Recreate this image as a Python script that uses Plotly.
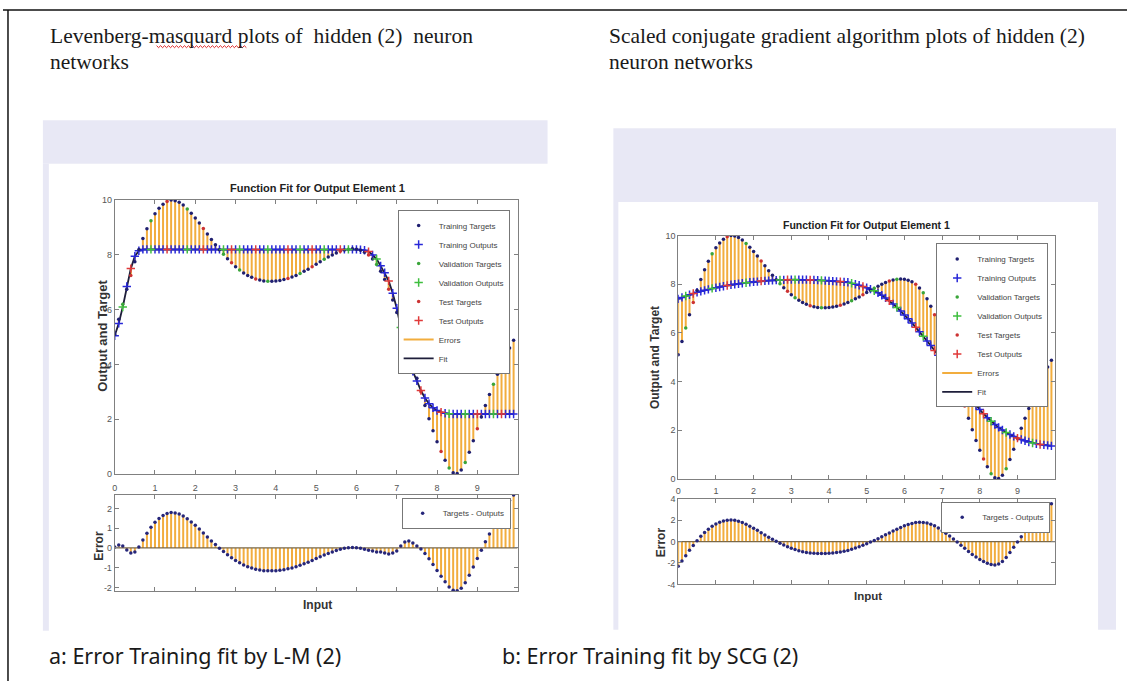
import plotly.graph_objects as go

W, H = 1127, 686

# ---------------- data ----------------
x_vals = [
    0.0, 0.1, 0.2, 0.3, 0.4, 0.5, 0.6, 0.7, 0.8, 0.9,
    1.0, 1.1, 1.2, 1.3, 1.4, 1.5, 1.6, 1.7, 1.8, 1.9,
    2.0, 2.1, 2.2, 2.3, 2.4, 2.5, 2.6, 2.7, 2.8, 2.9,
    3.0, 3.1, 3.2, 3.3, 3.4, 3.5, 3.6, 3.7, 3.8, 3.9,
    4.0, 4.1, 4.2, 4.3, 4.4, 4.5, 4.6, 4.7, 4.8, 4.9,
    5.0, 5.1, 5.2, 5.3, 5.4, 5.5, 5.6, 5.7, 5.8, 5.9,
    6.0, 6.1, 6.2, 6.3, 6.4, 6.5, 6.6, 6.7, 6.8, 6.9,
    7.0, 7.1, 7.2, 7.3, 7.4, 7.5, 7.6, 7.7, 7.8, 7.9,
    8.0, 8.1, 8.2, 8.3, 8.4, 8.5, 8.6, 8.7, 8.8, 8.9,
    9.0, 9.1, 9.2, 9.3, 9.4, 9.5, 9.6, 9.7, 9.8, 9.9,
]

targets = [
    5.10, 5.65, 6.20, 6.75, 7.25, 7.75, 8.20, 8.60, 8.95, 9.25,
    9.50, 9.70, 9.85, 9.95, 10.00, 9.98, 9.92, 9.82, 9.68, 9.52,
    9.35, 9.16, 8.96, 8.76, 8.56, 8.37, 8.19, 8.02, 7.86, 7.71,
    7.57, 7.45, 7.34, 7.25, 7.18, 7.12, 7.08, 7.05, 7.04, 7.04,
    7.05, 7.07, 7.10, 7.14, 7.19, 7.25, 7.32, 7.40, 7.48, 7.57,
    7.66, 7.75, 7.84, 7.92, 8.00, 8.07, 8.13, 8.18, 8.21, 8.22,
    8.21, 8.17, 8.10, 8.00, 7.85, 7.65, 7.40, 7.10, 6.75, 6.35,
    5.90, 5.45, 5.00, 4.50, 4.00, 3.50, 3.00, 2.50, 2.02, 1.58,
    1.18, 0.82, 0.50, 0.22, 0.05, 0.02, 0.15, 0.42, 0.80, 1.22,
    1.65, 2.08, 2.50, 2.90, 3.28, 3.64, 3.98, 4.30, 4.60, 4.88,
]

lm_outputs = [
    5.05, 5.50, 6.10, 6.85, 7.50, 7.95, 8.15, 8.20, 8.20, 8.20,
    8.20, 8.20, 8.20, 8.20, 8.20, 8.20, 8.20, 8.20, 8.20, 8.20,
    8.20, 8.20, 8.20, 8.20, 8.20, 8.20, 8.20, 8.20, 8.20, 8.20,
    8.20, 8.20, 8.20, 8.20, 8.20, 8.20, 8.20, 8.20, 8.20, 8.20,
    8.20, 8.20, 8.20, 8.20, 8.20, 8.20, 8.20, 8.20, 8.20, 8.20,
    8.20, 8.20, 8.20, 8.20, 8.20, 8.20, 8.20, 8.20, 8.20, 8.20,
    8.20, 8.19, 8.17, 8.12, 8.00, 7.85, 7.60, 7.35, 7.05, 6.60,
    6.05, 5.35, 4.70, 4.15, 3.75, 3.40, 3.05, 2.78, 2.57, 2.42,
    2.32, 2.26, 2.22, 2.20, 2.19, 2.19, 2.19, 2.19, 2.19, 2.19,
    2.19, 2.19, 2.19, 2.19, 2.19, 2.19, 2.19, 2.19, 2.19, 2.19,
]

scg_outputs = [
    7.40, 7.46, 7.52, 7.57, 7.62, 7.67, 7.71, 7.75, 7.79, 7.83,
    7.86, 7.89, 7.92, 7.95, 7.98, 8.00, 8.02, 8.04, 8.06, 8.08,
    8.10, 8.11, 8.13, 8.14, 8.15, 8.16, 8.17, 8.18, 8.18, 8.19,
    8.19, 8.19, 8.19, 8.19, 8.19, 8.18, 8.18, 8.17, 8.16, 8.15,
    8.14, 8.13, 8.12, 8.11, 8.10, 8.08, 8.04, 8.00, 7.96, 7.91,
    7.86, 7.80, 7.73, 7.65, 7.55, 7.44, 7.32, 7.19, 7.05, 6.90,
    6.74, 6.58, 6.41, 6.23, 6.05, 5.86, 5.67, 5.48, 5.28, 5.08,
    4.88, 4.68, 4.47, 4.26, 4.05, 3.84, 3.63, 3.42, 3.22, 3.03,
    2.85, 2.68, 2.52, 2.37, 2.24, 2.12, 2.01, 1.91, 1.83, 1.75,
    1.68, 1.62, 1.57, 1.52, 1.48, 1.45, 1.42, 1.40, 1.38, 1.36,
]

val_idx = [2, 9, 18, 27, 31, 38, 46, 52, 58, 65, 71, 83, 87, 94]
test_idx = [4, 13, 22, 29, 35, 43, 49, 56, 63, 68, 76, 81, 90, 96]

x_tick_vals = [0, 1, 2, 3, 4, 5, 6, 7, 8, 9]
x_tick_text = ["0", "1", "2", "3", "4", "5", "6", "7", "8", "9"]
fit_y_ticks = [0, 2, 4, 6, 8, 10]
lm_err_ticks = [-2, -1, 0, 1, 2]
lm_err_text = ["-2", "-1", "0", "1", "2"]
scg_err_ticks = [-4, -2, 0, 2, 4]
scg_err_text = ["-4", "-2", "0", "2", "4"]
x_range = [0, 10]
fit_y_range = [0, 10]
lm_err_range = [-2.2, 2.7]
scg_err_range = [-4, 4]

# ---------------- styles ----------------
SANS = "Liberation Sans"
SERIF = "Liberation Serif"
CAP = "Noto Sans"
STEM = "#F2AD3E"
FIT = "#1e1e3a"
TRAIN_T, TRAIN_O = "#1f1f70", "#2828d8"
VAL_T, VAL_O = "#3aa53a", "#3fbf3f"
TEST_T, TEST_O = "#cc3333", "#e03a3a"
ERRDOT = "#26267a"
LAV = "#E8E8F5"


def px(x):
    return x / W


def py(y):
    return 1 - y / H


fig = go.Figure()


def add_chart(outputs, xt, yt, xb, yb, lg_top, lg_bot):
    n = len(x_vals)
    vs, ts = set(val_idx), set(test_idx)
    train = [i for i in range(n) if i not in vs and i not in ts]
    groups = [("Training", train, TRAIN_T, TRAIN_O),
              ("Validation", sorted(vs), VAL_T, VAL_O),
              ("Test", sorted(ts), TEST_T, TEST_O)]
    sx, sy = [], []
    for xi, t, o in zip(x_vals, targets, outputs):
        sx += [xi, xi, None]
        sy += [t, o, None]
    fig.add_trace(go.Scatter(x=sx, y=sy, mode="lines", name="Errors",
                             line=dict(color=STEM, width=2), legend=lg_top,
                             legendrank=7, xaxis=xt, yaxis=yt, hoverinfo="skip"))
    fig.add_trace(go.Scatter(x=x_vals, y=outputs, mode="lines", name="Fit",
                             line=dict(color=FIT, width=1.8), legend=lg_top,
                             legendrank=8, xaxis=xt, yaxis=yt))
    rank = 1
    for name, idx, ct, co in groups:
        fig.add_trace(go.Scatter(
            x=[x_vals[i] for i in idx], y=[outputs[i] for i in idx],
            mode="markers", name=name + " Outputs",
            marker=dict(symbol="cross-thin", size=6, color=co,
                        line=dict(color=co, width=1.5)),
            legend=lg_top, legendrank=rank + 1, xaxis=xt, yaxis=yt))
        fig.add_trace(go.Scatter(
            x=[x_vals[i] for i in idx], y=[targets[i] for i in idx],
            mode="markers", name=name + " Targets",
            marker=dict(symbol="circle", size=3.5, color=ct),
            legend=lg_top, legendrank=rank, xaxis=xt, yaxis=yt))
        rank += 2
    err = [t - o for t, o in zip(targets, outputs)]
    ex, ey = [], []
    for xi, e in zip(x_vals, err):
        ex += [xi, xi, None]
        ey += [0, e, None]
    fig.add_trace(go.Scatter(x=ex, y=ey, mode="lines", showlegend=False,
                             line=dict(color=STEM, width=2), xaxis=xb, yaxis=yb,
                             hoverinfo="skip"))
    fig.add_trace(go.Scatter(x=x_range, y=[0, 0], mode="lines", showlegend=False,
                             line=dict(color="#7a6848", width=1.3), xaxis=xb, yaxis=yb))
    fig.add_trace(go.Scatter(x=x_vals, y=err, mode="markers", name="Targets - Outputs",
                             marker=dict(symbol="circle", size=3.5, color=ERRDOT),
                             legend=lg_bot, xaxis=xb, yaxis=yb))


add_chart(lm_outputs, "x", "y", "x2", "y2", "legend", "legend2")
add_chart(scg_outputs, "x3", "y3", "x4", "y4", "legend3", "legend4")

ax = dict(showgrid=False, zeroline=False, showline=True, linecolor="#808080",
          linewidth=1, mirror="ticks", ticks="inside", ticklen=4,
          tickcolor="#808080", tickfont=dict(family=SANS, size=9, color="#555"))

# pixel boxes of the four axes
L_X = (112, 516)
L_TOP = (198, 476)
L_BOT = (497, 595)
R_X = (677, 1055)
R_TOP = (234, 481)
R_BOT = (501, 588)


def dom_x(b):
    return [px(b[0]), px(b[1])]


def dom_y(b):
    return [py(b[1]), py(b[0])]


fig.update_layout(
    xaxis=dict(ax, domain=dom_x(L_X), anchor="y", range=x_range,
               tickvals=x_tick_vals, ticktext=x_tick_text, ticklabelstandoff=5),
    yaxis=dict(ax, domain=dom_y(L_TOP), anchor="x", range=fit_y_range,
               tickvals=fit_y_ticks),
    xaxis2=dict(ax, domain=dom_x(L_X), anchor="y2", range=x_range,
                tickvals=x_tick_vals, showticklabels=False),
    yaxis2=dict(ax, domain=dom_y(L_BOT), anchor="x2", range=lm_err_range,
                tickvals=lm_err_ticks, ticktext=lm_err_text),
    xaxis3=dict(ax, domain=dom_x(R_X), anchor="y3", range=x_range,
                tickvals=x_tick_vals, ticktext=x_tick_text, ticklabelstandoff=3),
    yaxis3=dict(ax, domain=dom_y(R_TOP), anchor="x3", range=fit_y_range,
                tickvals=fit_y_ticks),
    xaxis4=dict(ax, domain=dom_x(R_X), anchor="y4", range=x_range,
                tickvals=x_tick_vals, showticklabels=False),
    yaxis4=dict(ax, domain=dom_y(R_BOT), anchor="x4", range=scg_err_range,
                tickvals=scg_err_ticks, ticktext=scg_err_text),
)


def legend_cfg(xr, yt):
    return dict(x=px(xr), y=py(yt), xanchor="right", yanchor="top",
                bgcolor="white", bordercolor="#777", borderwidth=1,
                font=dict(family=SANS, size=8, color="#444"),
                itemwidth=30, tracegroupgap=0)


fig.update_layout(
    legend=legend_cfg(508, 208),
    legend2=legend_cfg(509, 500),
    legend3=legend_cfg(1048, 242),
    legend4=legend_cfg(1050, 504),
)

# ---------------- page decoration ----------------
shapes = []


def rect(x0, y0, x1, y1, color):
    shapes.append(dict(type="rect", xref="paper", yref="paper",
                       x0=px(x0), x1=px(x1), y0=py(y1), y1=py(y0),
                       fillcolor=color, line=dict(width=0), layer="below"))


rect(40, 117, 546, 161, LAV)
rect(40, 161, 46, 635, LAV)
rect(612, 125, 1116, 200, LAV)
rect(612, 200, 617, 634, LAV)
rect(1098, 200, 1116, 634, LAV)

shapes.append(dict(type="line", xref="paper", yref="paper", x0=0, x1=1,
                   y0=py(5), y1=py(5), line=dict(color="#111", width=1.5)))
shapes.append(dict(type="line", xref="paper", yref="paper", x0=px(5), x1=px(5),
                   y0=0, y1=py(5), line=dict(color="#111", width=1.5)))

# red spell-check wavy underline under "masquard"
pts = []
xw = 154
k = 0
while xw <= 244:
    pts.append((px(xw), py(42 + (1.3 if k % 2 else -0.7))))
    xw += 2
    k += 1
path = "M " + " L ".join(f"{a:.5f},{b:.5f}" for a, b in pts)
shapes.append(dict(type="path", xref="paper", yref="paper", path=path,
                   line=dict(color="#d22", width=1)))

fig.update_layout(shapes=shapes)

anns = []


def text(x, y, s, size, family, color="#1a1a1a", xanchor="left", angle=0, bold=False):
    anns.append(dict(x=px(x), y=py(y), xref="paper", yref="paper",
                     text=("<b>" + s + "</b>") if bold else s, showarrow=False,
                     xanchor=xanchor, yanchor="middle", textangle=angle,
                     font=dict(family=family, size=size, color=color)))


text(45, 31, "Levenberg-masquard plots of  hidden (2)  neuron", 21.5, SERIF)
text(45, 58, "networks", 21.5, SERIF)
text(606, 31, "Scaled conjugate gradient algorithm plots of hidden (2)", 21.5, SERIF)
text(606, 58, "neuron networks", 21.5, SERIF)
text(44, 660, "a: Error Training fit by L-M (2)", 21.5, CAP)
text(498, 660, "b: Error Training fit by SCG (2)", 21.5, CAP)

text(315, 186, "Function Fit for Output Element 1", 11, SANS, "#222", "center", bold=True)
text(866, 223, "Function Fit for Output Element 1", 10.5, SANS, "#222", "center", bold=True)
text(99, 336, "Output and Target", 13, SANS, "#333", "center", -90, True)
text(654, 358, "Output and Target", 12, SANS, "#333", "center", -90, True)
text(96, 549, "Error", 12, SANS, "#333", "center", -90, True)
text(660, 545, "Error", 12, SANS, "#333", "center", -90, True)
text(315, 609, "Input", 12, SANS, "#333", "center", bold=True)
text(867, 600, "Input", 11.5, SANS, "#333", "center", bold=True)

fig.update_layout(annotations=anns)

fig.update_layout(width=W, height=H, autosize=False,
                  margin=dict(l=0, r=0, t=0, b=0, pad=0),
                  paper_bgcolor="white", plot_bgcolor="white",
                  font=dict(family=SANS))

fig.write_html("out.html")
